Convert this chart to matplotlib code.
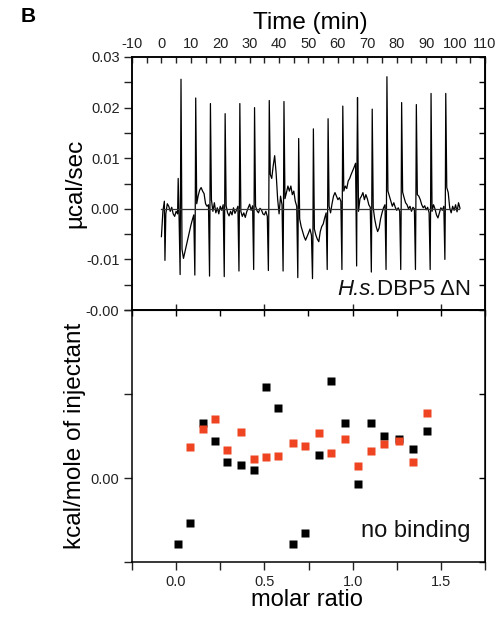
import numpy as np
import matplotlib
matplotlib.use("Agg")
import matplotlib.pyplot as plt

plt.rcParams['font.family'] = ['Liberation Sans', 'DejaVu Sans']
plt.rcParams['axes.unicode_minus'] = False

# ---- raw ITC trace (ucal/sec), baseline read every 0.5 min ----
base_t = np.r_[np.arange(0, 6.25, 0.5), np.arange(7, 101.75, 0.5)]
base_v = [
    # 0 - 6 min
    -0.0055, -0.0005, 0.0015, -0.0010, 0.0010, 0.0005, -0.0005, 0.0003, -0.0010, -0.0015, -0.0005, -0.0010, -0.0015,
    # 7 - 11.5
    -0.0080, -0.0098, -0.0085, -0.0073, -0.0060, -0.0045, -0.0033, -0.0022, -0.0012, -0.0005,
    # 12 - 16.5
    0.0010, 0.0026, 0.0037, 0.0042, 0.0035, 0.0030, 0.0010, 0.0005, 0.0008, 0.0005,
    # 17 - 21.5
    0.0018, -0.0005, 0.0012, -0.0008, 0.0002, -0.0010, 0.0005, -0.0003, 0.0008, -0.0002,
    # 22 - 26.5
    0.0006, -0.0008, -0.0014, -0.0005, -0.0012, 0.0002, -0.0009, -0.0003, 0.0005, -0.0002,
    # 27 - 31.5
    -0.0005, -0.0015, -0.0008, -0.0017, -0.0006, 0.0002, 0.0009, -0.0003, 0.0006, -0.0002,
    # 32 - 36.5
    0.0005, -0.0004, -0.0008, 0.0001, -0.0002, -0.0010, -0.0012, -0.0005, -0.0015, -0.0006,
    # 37 - 41.5
    0.0068, 0.0060, 0.0085, 0.0105, 0.0070, 0.0020, -0.0010, 0.0025, 0.0008, 0.0003,
    # 42 - 46.5
    0.0020, 0.0032, 0.0045, 0.0035, 0.0045, 0.0028, 0.0035, 0.0015, 0.0005, -0.0005,
    # 47 - 51.5
    -0.0020, -0.0035, -0.0045, -0.0055, -0.0062, -0.0055, -0.0048, -0.0040, -0.0052, -0.0060,
    # 52 - 56.5
    -0.0040, -0.0052, -0.0060, -0.0065, -0.0045, -0.0035, -0.0030, -0.0018, -0.0008, -0.0005,
    # 57 - 61.5
    0.0005, -0.0008, 0.0010, 0.0025, 0.0032, 0.0025, 0.0018, 0.0022, 0.0015, 0.0025,
    # 62 - 66.5
    0.0035, 0.0045, 0.0040, 0.0055, 0.0060, 0.0068, 0.0075, 0.0082, 0.0090, 0.0100,
    # 67 - 71.5
    -0.0005, 0.0020, 0.0025, 0.0032, 0.0018, 0.0028, 0.0020, 0.0008, 0.0003, -0.0002,
    # 72 - 76.5
    0.0002, -0.0020, -0.0035, -0.0045, -0.0038, -0.0020, -0.0008, 0.0002, 0.0008, 0.0000,
    # 77 - 81.5
    0.0035, 0.0025, 0.0015, 0.0005, 0.0012, 0.0003, -0.0003, 0.0002, -0.0005, 0.0000,
    # 82 - 86.5
    0.0033, 0.0022, 0.0012, 0.0008, 0.0000, 0.0005, -0.0005, 0.0003, 0.0000, 0.0006,
    # 87 - 91.5
    0.0028, 0.0025, 0.0018, 0.0008, 0.0002, 0.0006, -0.0002, 0.0003, -0.0008, -0.0002,
    # 92 - 96.5
    -0.0005, 0.0008, 0.0000, -0.0012, -0.0018, -0.0008, 0.0002, -0.0003, 0.0005, 0.0000,
    # 97 - 101.5
    0.0042, 0.0032, 0.0002, -0.0008, 0.0005, -0.0003, 0.0008, -0.0006, 0.0012, 0.0001,
]

# injections: time (min), spike maximum, spike minimum
inj_t = [6.66, 11.66, 16.66, 21.66, 26.66, 31.66, 36.66, 41.66, 46.66, 51.66,
         56.66, 61.66, 66.66, 71.66, 76.66, 81.66, 86.66, 91.66, 96.66]
inj_max = [0.0256, 0.0219, 0.0208, 0.0188, 0.0208, 0.0200, 0.0214, 0.0212, 0.0139, 0.0158,
           0.0178, 0.0203, 0.0220, 0.0197, 0.0261, 0.0210, 0.0206, 0.0228, 0.0228]
inj_min = [-0.0130, -0.0131, -0.0133, -0.0134, -0.0123, -0.0120, -0.0122, -0.0123, -0.0136, -0.0138,
           -0.0120, -0.0120, -0.0113, -0.0125, -0.0120, -0.0120, -0.0120, -0.0120, -0.0100]
# small artefacts before the first injection
extra_t = [1.2, 5.7]
extra_v = [-0.0102, 0.0060]

# ---- integrated heats ----
molar = [0.011, 0.080, 0.152, 0.220, 0.290, 0.365, 0.440, 0.510, 0.580, 0.660,
         0.730, 0.810, 0.880, 0.956, 1.030, 1.106, 1.180, 1.260, 1.340, 1.420]
heat_black = [-0.79, -0.54, 0.66, 0.44, 0.19, 0.16, 0.095, 1.08, 0.83, -0.78,
              -0.65, 0.27, 1.15, 0.65, -0.07, 0.65, 0.50, 0.47, 0.345, 0.56]
molar_red = molar[1:]
heat_red = [0.37, 0.58, 0.70, 0.33, 0.55, 0.23, 0.25, 0.26, 0.42, 0.38,
            0.53, 0.30, 0.47, 0.14, 0.32, 0.40, 0.44, 0.19, 0.77]

# assemble trace
tt = list(base_t) + extra_t + [t - 0.3 for t in inj_t] + inj_t
vv = list(base_v) + extra_v + inj_min + inj_max
order = np.argsort(tt)
tt = np.array(tt)[order]
vv = np.array(vv)[order]

fig = plt.figure(figsize=(5.04, 6.17), dpi=100)
L, W = 132 / 504, 353 / 504
ax1 = fig.add_axes([L, 1 - 310 / 617, W, 253 / 617])
ax2 = fig.add_axes([L, 1 - 562 / 617, W, 252 / 617])
ax1t = ax1.twiny()

tick_in = dict(labelsize=10.5, colors='#222222', length=4, width=1)
tick_out = dict(labelsize=10.5, colors='#222222', length=5.5, width=1)

# top panel
ax1t.plot(tt, vv, color='black', lw=0.9)
ax1t.plot([0, 101.3], [0, 0], color='#333333', lw=0.9)
ax1t.set_xlim(-10, 110)
ax1t.set_xticks(range(-10, 111, 10))
ax1t.set_xticks(range(-10, 111, 5), minor=True)
ax1t.tick_params(axis='x', which='both', direction='in', **tick_in)
ax1t.tick_params(axis='x', which='major', pad=4)

ax1.set_xlim(-0.25, 1.75)
ax1.set_xticks([0, 0.5, 1.0, 1.5])
ax1.tick_params(axis='x', which='both', direction='in', labelbottom=False, **tick_in)
ax1.set_ylim(-0.02, 0.03)
ax1.set_yticks([-0.02, -0.01, 0.0, 0.01, 0.02, 0.03])
ax1.set_yticklabels(['-0.00', '-0.01', '0.00', '0.01', '0.02', '0.03'])
ax1.set_yticks(np.arange(-0.02, 0.031, 0.005), minor=True)
ax1.tick_params(axis='y', which='both', direction='out', **tick_out)
ax1.set_ylabel('µcal/sec', fontsize=17.5)
ax1.yaxis.set_label_coords(-0.13, 0.5)

lab2 = ax1.text(0.96, 0.059, 'DBP5 ΔN', transform=ax1.transAxes,
                ha='right', va='baseline', fontsize=16, color='#111111')
ax1.annotate('H.s.', xy=(0, 0), xycoords=lab2, ha='right', va='bottom',
             fontsize=16, style='italic', color='#111111')

# right side inward ticks
axr1 = ax1.secondary_yaxis('right')
axr1.set_yticks(np.arange(-0.02, 0.031, 0.005))
axr1.tick_params(axis='y', direction='in', labelright=False, length=4, width=1)

# bottom panel
ax2.plot(molar, heat_black, 's', color='black', ms=5.8, mec='none')
ax2.plot(molar_red, heat_red, 's', color='#ee4422', ms=5.8, mec='none')
ax2.set_xlim(-0.25, 1.75)
ax2.set_xticks([0, 0.5, 1.0, 1.5])
ax2.set_xticklabels(['0.0', '0.5', '1.0', '1.5'])
ax2.set_xticks(np.arange(-0.25, 1.76, 0.25), minor=True)
ax2.tick_params(axis='x', which='both', direction='out', **tick_out)
ax2.set_ylim(-1, 2)
ax2.set_yticks([-1, 0, 1, 2])
ax2.set_yticklabels(['', '0.00', '', ''])
ax2.tick_params(axis='y', which='both', direction='out', **tick_out)
ax2.set_ylabel('kcal/mole of injectant', fontsize=17.5)
ax2.yaxis.set_label_coords(-0.13, 0.5)
ax2.text(0.96, 0.099, 'no binding', transform=ax2.transAxes,
         ha='right', va='baseline', fontsize=17, color='#111111')
axr2 = ax2.secondary_yaxis('right')
axr2.set_yticks([-1, 0, 1, 2])
axr2.tick_params(axis='y', direction='in', labelright=False, length=4, width=1)
axt2 = ax2.secondary_xaxis('top')
axt2.set_xticks(np.arange(-0.25, 1.76, 0.25))
axt2.tick_params(axis='x', direction='in', labeltop=False, length=4, width=1)

for a in (ax1, ax2, ax1t):
    for s in a.spines.values():
        s.set_linewidth(1.1)

fig.text(310 / 504, 1 - 29 / 617, 'Time (min)', ha='center', va='baseline', fontsize=17.5)
fig.text(307 / 504, 1 - 606 / 617, 'molar ratio', ha='center', va='baseline', fontsize=17)
fig.text(28 / 504, 1 - 17 / 617, 'B', ha='center', va='center', fontsize=15, fontweight='bold')

fig.savefig('out.png', dpi=100)
